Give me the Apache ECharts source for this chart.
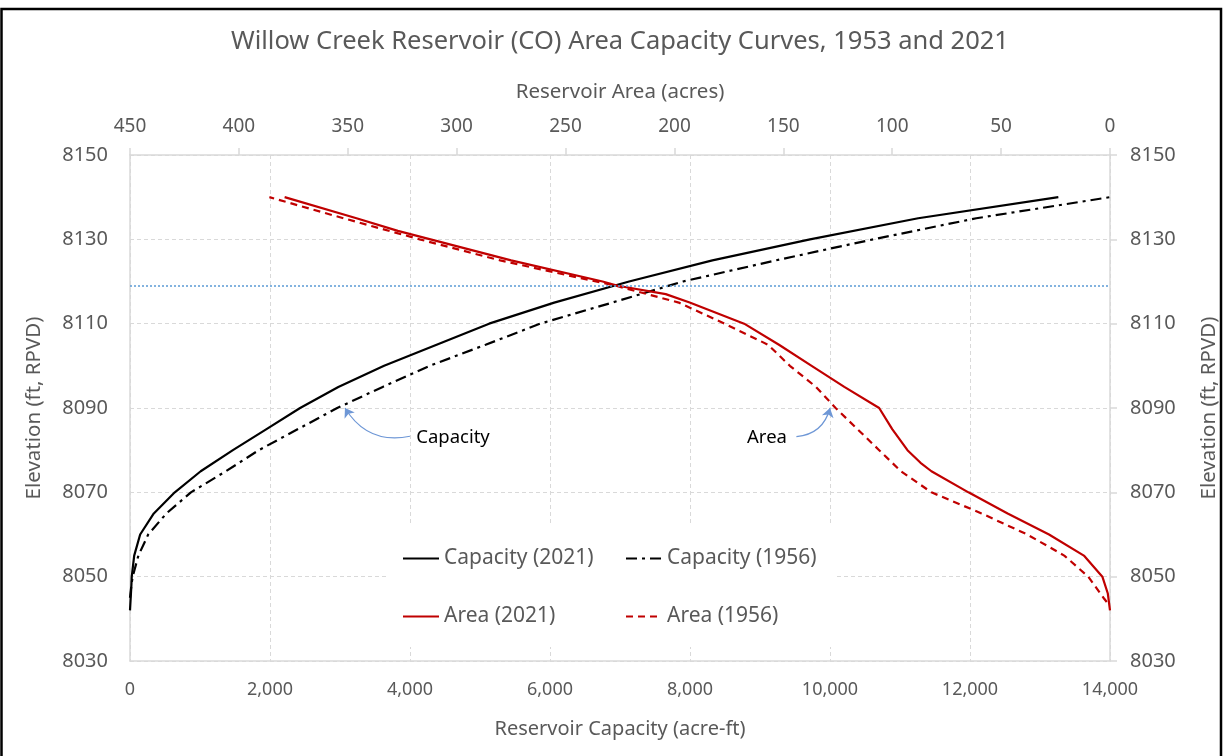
<!DOCTYPE html>
<html>
<head>
<meta charset="utf-8">
<script src="https://cdn.jsdelivr.net/npm/echarts@6/dist/echarts.min.js"></script>
<style>
html,body{margin:0;padding:0;background:#fff;}
#chart{width:1223px;height:756px;}
</style>
</head>
<body>
<div id="chart"></div>
<script>
// ---- Data ----
// Capacity curves: [capacity acre-ft, elevation ft]
const capacity2021 = [
  [0,8042],[20,8048],[25,8050],[60,8055],[145,8060],[340,8065],[640,8070],[1010,8075],
  [1470,8080],[1950,8085],[2430,8090],[2976,8095],[3630,8100],[4380,8105],[5130,8110],
  [6060,8115],[7130,8120],[8320,8125],[9714,8130],[11260,8135],[13262,8140]
];
const capacity1956 = [
  [0,8045],[20,8048],[38,8050],[120,8055],[260,8060],[520,8065],[870,8070],[1370,8075],
  [1840,8080],[2400,8085],[2960,8090],[3610,8095],[4280,8100],[5080,8105],[5860,8110],
  [6890,8115],[7900,8120],[9223,8125],[10618,8130],[12090,8135],[14000,8140]
];
// Area curves: [area acres, elevation ft]
const area2021 = [
  [0,8042],[1,8046],[3.5,8050],[12,8055],[28,8060],[47,8065],[65,8070],[82,8075],[87,8077],
  [93,8080],[100,8085],[106,8090],[122,8095],[137,8100],[152,8105],[168,8110],[193,8115],
  [204,8117],[226,8119],[233,8120],[275,8125],[312,8130],[327,8132],[346,8135],[379,8140]
];
const area1956 = [
  [1.5,8044],[3,8045],[10,8050],[21,8055],[38,8060],[59,8065],[82,8070],[96,8075],[106,8080],
  [116,8085],[126,8090],[135,8095],[147,8100],[157,8105],[177,8110],[198,8115],[227,8119],
  [236,8120],[280,8125],[317,8130],[352,8135],[386,8140]
];
const referenceElevation = 8119;
const capacityTicks = {min:0, max:14000, interval:2000};
const areaTicks = {min:0, max:450, interval:50};
const elevTicks = {min:8030, max:8150, interval:20};
// annotations: [capacity, elevation]
const capNoteText = [4614, 8082.9];
const capNoteArrow = [[4000, 8083.3], [3071, 8090]];
const areaNoteText = [9100, 8082.9];
const areaNoteArrow = [[9520, 8083.2], [10000, 8090]];

const FONT = 'Noto Sans';
const GRAY = '#595959';
const AXIS = '#d9d9d9';

const chart = echarts.init(document.getElementById('chart'), null, {renderer:'canvas'});

function legendAt(name, left, top){
  return {
    data:[name], left:left, top:top, z:5,
    itemWidth:36, itemHeight:14, itemGap:10,
    itemStyle:{opacity:0},
    textStyle:{fontFamily:FONT, fontSize:21, color:GRAY}
  };
}

const option = {
  backgroundColor:'#fff',
  animation:false,
  textStyle:{fontFamily:FONT},
  title:{
    text:'Willow Creek Reservoir (CO) Area Capacity Curves, 1953 and 2021',
    left:226, top:24,
    textStyle:{fontFamily:FONT, fontSize:25.5, fontWeight:'normal', color:GRAY}
  },
  grid:{left:130, right:113, top:155, bottom:95, containLabel:false, outerBoundsMode:'none'},
  legend:[
    legendAt('Capacity (2021)', 397, 543),
    legendAt('Capacity (1956)', 620, 543),
    legendAt('Area (2021)', 397, 601),
    legendAt('Area (1956)', 620, 601)
  ],
  graphic:[
    {type:'rect', left:386, top:525, shape:{width:448, height:122}, style:{fill:'#fff'}, z:3, silent:true},
    {type:'rect', shape:{x:1.5, y:9, width:1219.5, height:800}, style:{fill:'none', stroke:'#000', lineWidth:2.5}, z:10, silent:true}
  ],
  xAxis:[
    {
      type:'value', position:'bottom', min:capacityTicks.min, max:capacityTicks.max, interval:capacityTicks.interval,
      axisLine:{show:true, lineStyle:{color:AXIS, width:1.5}},
      axisTick:{show:false},
      splitLine:{show:true, lineStyle:{color:AXIS, type:[4,3], width:1}},
      axisLabel:{color:GRAY, fontSize:18, fontFamily:FONT, margin:20,
        formatter:v=>v.toLocaleString('en-US')},
      name:'Reservoir Capacity (acre-ft)', nameLocation:'middle', nameGap:58,
      nameTextStyle:{color:GRAY, fontSize:20, fontFamily:FONT}
    },
    {
      type:'value', position:'top', inverse:true, min:areaTicks.min, max:areaTicks.max, interval:areaTicks.interval,
      axisLine:{show:true, lineStyle:{color:AXIS, width:1.5}},
      axisTick:{show:true, length:7, lineStyle:{color:AXIS, width:1.5}},
      splitLine:{show:false},
      axisLabel:{color:GRAY, fontSize:19, fontFamily:FONT, margin:19},
      name:'Reservoir Area (acres)', nameLocation:'middle', nameGap:52,
      nameTextStyle:{color:GRAY, fontSize:20.5, fontFamily:FONT}
    }
  ],
  yAxis:[
    {
      type:'value', position:'left', min:elevTicks.min, max:elevTicks.max, interval:elevTicks.interval,
      axisLine:{show:true, lineStyle:{color:AXIS, width:1.5}},
      axisTick:{show:false},
      splitLine:{show:true, lineStyle:{color:AXIS, type:[4,3], width:1}},
      axisLabel:{color:GRAY, fontSize:20, fontFamily:FONT, margin:22, formatter:v=>String(v)},
      name:'Elevation (ft, RPVD)', nameLocation:'middle', nameGap:85, nameRotate:90,
      nameTextStyle:{color:GRAY, fontSize:20.5, fontFamily:FONT}
    },
    {
      type:'value', position:'right', min:elevTicks.min, max:elevTicks.max, interval:elevTicks.interval,
      axisLine:{show:true, lineStyle:{color:AXIS, width:1.5}},
      axisTick:{show:true, length:7, lineStyle:{color:AXIS, width:1.5}},
      splitLine:{show:false},
      axisLabel:{color:GRAY, fontSize:20, fontFamily:FONT, margin:20, formatter:v=>String(v)},
      name:'Elevation (ft, RPVD)', nameLocation:'middle', nameGap:89, nameRotate:90,
      nameTextStyle:{color:GRAY, fontSize:20.5, fontFamily:FONT}
    }
  ],
  series:[
    {
      name:'Capacity (2021)', type:'line', xAxisIndex:0, yAxisIndex:0, data:capacity2021,
      symbol:'none', smooth:false, color:'#000',
      lineStyle:{color:'#000', width:2.2}, z:4,
      markLine:{
        silent:true, symbol:'none', animation:false,
        label:{show:false},
        lineStyle:{color:'#5B9BD5', type:[2,2], width:1.5},
        data:[{yAxis:referenceElevation}]
      }
    },
    {
      name:'Capacity (1956)', type:'line', xAxisIndex:0, yAxisIndex:0, data:capacity1956,
      symbol:'none', color:'#000',
      lineStyle:{color:'#000', width:2.2, type:[11,5,3,5]}, z:4,
      markPoint:{
        silent:true, symbol:'circle', symbolSize:0, animation:false,
        label:{show:true, position:'inside', color:'#000', fontSize:18.5, fontFamily:FONT},
        data:[
          {coord:capNoteText, value:'Capacity', label:{formatter:'Capacity'}},
          {coord:areaNoteText, value:'Area', label:{formatter:'Area'}}
        ]
      }
    },
    {
      name:'Area (2021)', type:'line', xAxisIndex:1, yAxisIndex:0, data:area2021,
      symbol:'none', color:'#C00000',
      lineStyle:{color:'#C00000', width:2.2}, z:4
    },
    {
      name:'Area (1956)', type:'line', xAxisIndex:1, yAxisIndex:0, data:area1956,
      symbol:'none', color:'#C00000',
      lineStyle:{color:'#C00000', width:2.2, type:[7,5]}, z:4
    },
    {
      name:'note-arrows', type:'lines', coordinateSystem:'cartesian2d', xAxisIndex:0, yAxisIndex:0,
      silent:true, z:4,
      symbol:['none','arrow'], symbolSize:9,
      lineStyle:{color:'#6E97D6', width:1.2, opacity:1},
      data:[
        {coords:capNoteArrow, lineStyle:{curveness:0.35}},
        {coords:areaNoteArrow, lineStyle:{curveness:-0.35}}
      ]
    }
  ]
};
chart.setOption(option);
</script>
</body>
</html>
